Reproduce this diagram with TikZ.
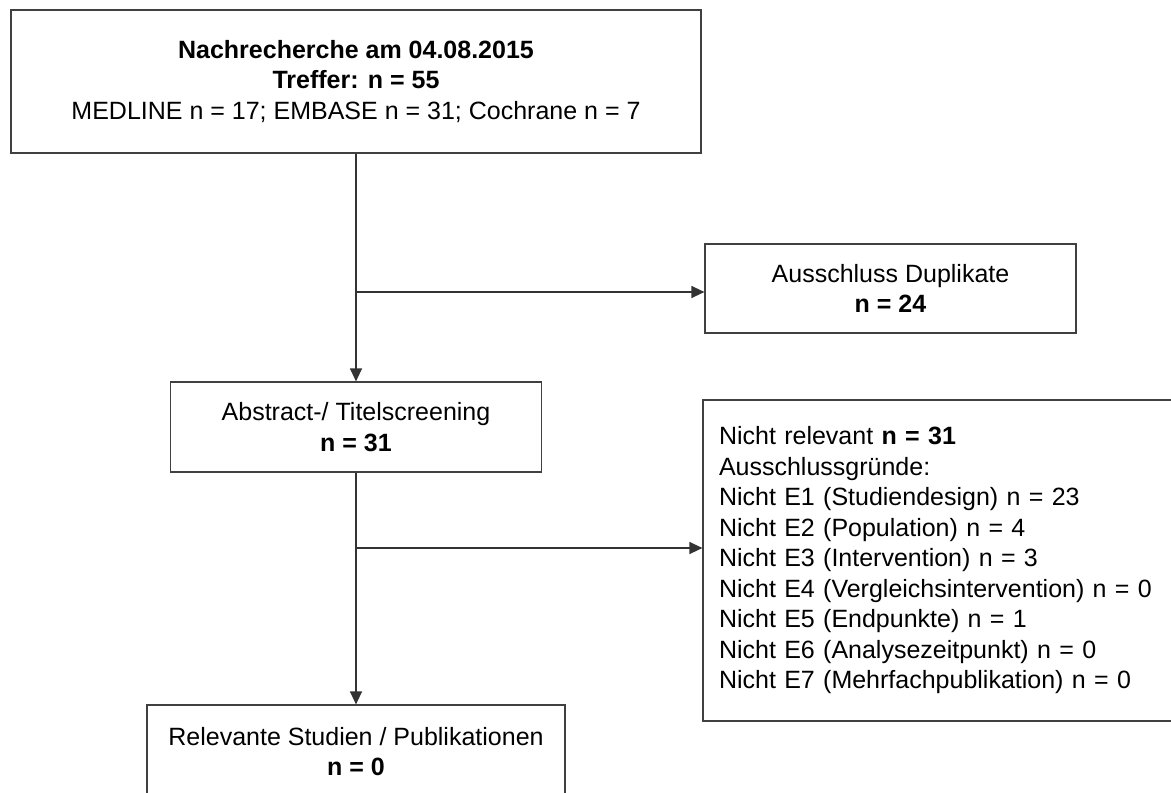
\documentclass[tikz,border=0pt]{standalone}
\usepackage{fontspec}
\setmainfont{Liberation Sans}
\usetikzlibrary{arrows.meta}

\begin{document}
\begin{tikzpicture}[x=0.5pt,y=-0.5pt]
\useasboundingbox (0,0) rectangle (1171,792);
\clip (0,0) rectangle (1171,792);
%\tikzstyle{box}=[draw,thick,minimum width=40mm]
\begin{scope}[every node/.style={draw=black!75,line width=0.6pt,inner sep=0pt,align=center,
              font=\fontsize{12.5}{15.25}\selectfont}]
    \node[minimum width=345pt,minimum height=71.5pt] (A) at (356,81.5)
        {\textbf{Nachrecherche am 04.08.2015}\\ \textbf{Treffer: n = 55}\\
         MEDLINE n = 17; EMBASE n = 31; Cochrane n = 7};
    \node[minimum width=185.5pt,minimum height=44.5pt] (B) at (890.5,288.5)
        {Ausschluss Duplikate\\ \textbf{n = 24}};
    \node[minimum width=185.5pt,minimum height=45pt] (C) at (356,427)
        {Abstract-/ Titelscreening\\ \textbf{n = 31}};
    \node[minimum width=250pt,minimum height=160.5pt,inner xsep=8pt,text width=234pt,align=left] (D) at (953,560.5)
        {Nicht relevant \textbf{n = 31}\\ Ausschlussgründe:\\
         Nicht E1 (Studiendesign) n = 23\\
         Nicht E2 (Population) n = 4\\
         Nicht E3 (Intervention) n = 3\\
         Nicht E4 (Vergleichsintervention) n = 0\\
         Nicht E5 (Endpunkte) n = 1\\
         Nicht E6 (Analysezeitpunkt) n = 0\\
         Nicht E7 (Mehrfachpublikation) n = 0};
    \node[minimum width=209pt,minimum height=46.5pt] (E) at (356,751.5)
        {Relevante Studien / Publikationen\\ \textbf{n = 0}};
    \coordinate (P) at (356,292);
    \coordinate (Q) at (356,548);
\end{scope}

\begin{scope}[>={Triangle[length=6.5pt,width=6pt]},
              every edge/.style={draw=black!80,line width=0.6pt}]
    \path [->] (A) edge (C);
    \path [->] (C) edge (E);
    \path [->] (P) edge (P -| B.west);
    \path [->] (Q) edge (Q -| D.west);
\end{scope}
\end{tikzpicture}
\end{document}
